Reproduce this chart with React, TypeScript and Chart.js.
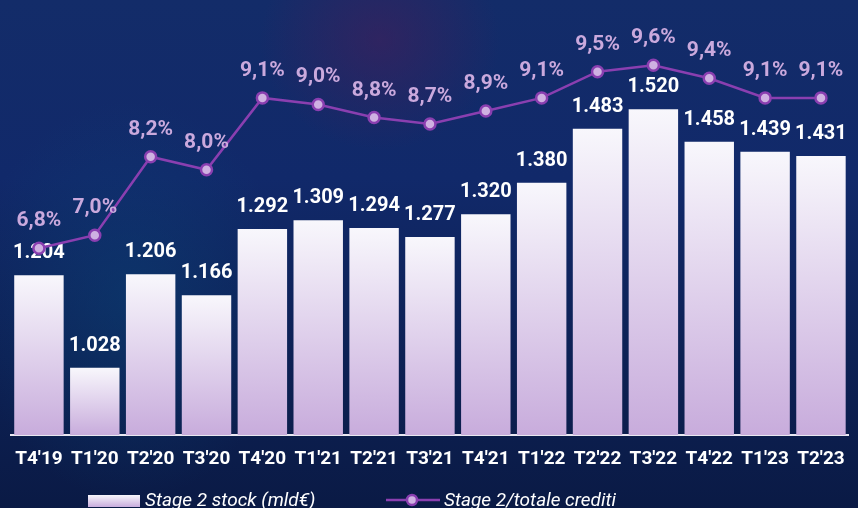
import React, { useEffect, useRef } from "react";
import { Chart, registerables } from "chart.js";

Chart.register(...registerables);

const categories = ["T4'19", "T1'20", "T2'20", "T3'20", "T4'20", "T1'21", "T2'21", "T3'21", "T4'21", "T1'22", "T2'22", "T3'22", "T4'22", "T1'23", "T2'23"];
const stockValues = [1204, 1028, 1206, 1166, 1292, 1309, 1294, 1277, 1320, 1380, 1483, 1520, 1458, 1439, 1431];
const ratioValues = [6.8, 7.0, 8.2, 8.0, 9.1, 9.0, 8.8, 8.7, 8.9, 9.1, 9.5, 9.6, 9.4, 9.1, 9.1];
const stockLabel = "Stage 2 stock (mld€)";
const ratioLabel = "Stage 2/totale crediti";

const FONT = "Roboto, 'Noto Sans', sans-serif";
const LINE_COLOR = "#8a3fb0";
const POINT_FILL = "#cfb1e2";
const PCT_COLOR = "#caa9dd";

const fmtStock = (v: number) => {
  const s = String(v);
  return s.length > 3 ? s.slice(0, s.length - 3) + "." + s.slice(-3) : s;
};
const fmtPct = (v: number) => v.toFixed(1).replace(".", ",") + "%";

const labelPlugin = {
  id: "valueLabels",
  afterDatasetDraw(chart: any, args: any) {
    const ctx = chart.ctx;
    const meta = chart.getDatasetMeta(args.index);
    ctx.save();
    ctx.textAlign = "center";
    ctx.textBaseline = "alphabetic";
    if (args.index === 0) {
      ctx.font = `bold 20px ${FONT}`;
      ctx.fillStyle = "#ffffff";
      meta.data.forEach((el: any, i: number) => {
        ctx.fillText(fmtStock(stockValues[i]), el.x, el.y - 17);
      });
    } else {
      ctx.font = `bold 21px ${FONT}`;
      ctx.fillStyle = PCT_COLOR;
      meta.data.forEach((el: any, i: number) => {
        ctx.fillText(fmtPct(ratioValues[i]), el.x, el.y - 22);
      });
    }
    ctx.restore();
  },
  afterDraw(chart: any) {
    const ctx = chart.ctx;
    ctx.save();
    const g = ctx.createLinearGradient(0, 495, 0, 507);
    g.addColorStop(0, "#f7f6fb");
    g.addColorStop(1, "#c8acdc");
    ctx.fillStyle = g;
    ctx.fillRect(88, 495, 52, 12);
    ctx.font = `italic 19px ${FONT}`;
    ctx.fillStyle = "#ffffff";
    ctx.textAlign = "left";
    ctx.textBaseline = "alphabetic";
    ctx.fillText(stockLabel, 145, 506);
    ctx.strokeStyle = LINE_COLOR;
    ctx.lineWidth = 2.5;
    ctx.beginPath();
    ctx.moveTo(386, 500);
    ctx.lineTo(440, 500);
    ctx.stroke();
    ctx.beginPath();
    ctx.arc(412, 500, 5, 0, Math.PI * 2);
    ctx.fillStyle = POINT_FILL;
    ctx.fill();
    ctx.lineWidth = 2.5;
    ctx.stroke();
    ctx.fillStyle = "#ffffff";
    ctx.fillText(ratioLabel, 444, 506);
    ctx.restore();
  },
};

export default function App() {
  const ref = useRef<HTMLCanvasElement | null>(null);
  useEffect(() => {
    if (!ref.current) return;
    const chart = new Chart(ref.current, {
      type: "bar",
      data: {
        labels: categories,
        datasets: [
          {
            type: "bar",
            label: stockLabel,
            data: stockValues,
            yAxisID: "y",
            order: 1,
            barPercentage: 0.885,
            categoryPercentage: 1,
            borderWidth: 0,
            backgroundColor: (c: any) => {
              const ch = c.chart;
              const area = ch.chartArea;
              if (!area || c.type !== "data") return "#c8acdc";
              const top = ch.scales.y.getPixelForValue(c.raw);
              const g = ch.ctx.createLinearGradient(0, top, 0, area.bottom);
              g.addColorStop(0, "#f8f7fc");
              g.addColorStop(1, "#c8acdc");
              return g;
            },
          } as any,
          {
            type: "line",
            label: ratioLabel,
            data: ratioValues,
            yAxisID: "y1",
            order: 0,
            borderColor: LINE_COLOR,
            borderWidth: 2.5,
            pointRadius: 5.5,
            pointBackgroundColor: POINT_FILL,
            pointBorderColor: LINE_COLOR,
            pointBorderWidth: 2.5,
            tension: 0,
          } as any,
        ],
      },
      options: {
        animation: false,
        responsive: false,
        devicePixelRatio: 1,
        layout: { padding: { left: 11, right: 0, top: 10, bottom: 43 } },
        plugins: { legend: { display: false }, tooltip: { enabled: false } },
        scales: {
          x: {
            grid: { display: false, drawTicks: false },
            border: { display: true, color: "#e9e7f1", width: 2 },
            ticks: {
              color: "#ffffff",
              font: { family: FONT, size: 19, weight: "bold" },
              padding: 13,
              maxRotation: 0,
              autoSkip: false,
            },
            afterFit: (s: any) => {
              s.height = 30;
            },
          },
          y: { display: false, min: 900, max: 1709 },
          y1: { display: false, position: "right", min: 3.945, max: 10.444 },
        },
      } as any,
      plugins: [labelPlugin],
    });
    return () => chart.destroy();
  }, []);

  return (
    <div
      style={{
        position: "fixed",
        left: 0,
        top: 0,
        width: 858,
        height: 508,
        overflow: "hidden",
        background:
          "radial-gradient(ellipse 120px 110px at 380px 40px, rgba(70,30,90,0.55), rgba(70,30,90,0) 100%), radial-gradient(ellipse 160px 200px at 130px 300px, rgba(10,70,120,0.45), rgba(10,70,120,0) 100%), linear-gradient(180deg, #132c69 0%, #11296a 35%, #0d2155 70%, #0a1a45 100%)",
      }}
    >
      <canvas ref={ref} width={858} height={508} style={{ display: "block" }} />
    </div>
  );
}
